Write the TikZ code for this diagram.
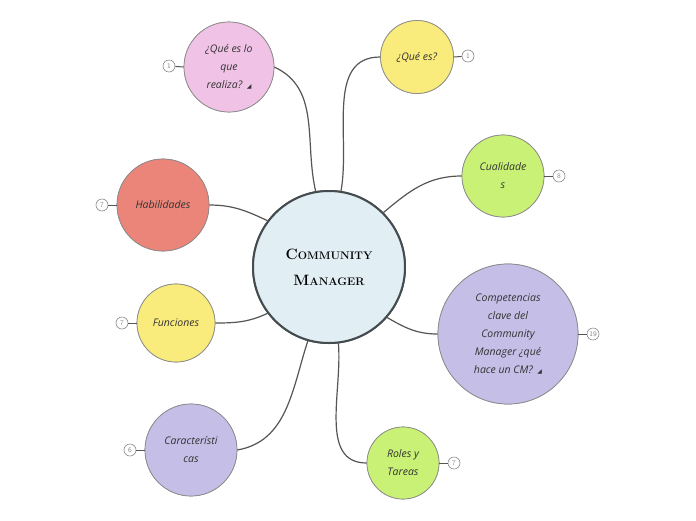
\documentclass[tikz,border=0pt]{standalone}
\usepackage{fontspec}
\newfontfamily\hand{Open Sans}
\newfontfamily\symfont{DejaVu Sans}
\definecolor{centerfill}{HTML}{E1EEF4}
\definecolor{centerbord}{HTML}{454C50}
\definecolor{pinkf}{HTML}{F0C3E6}
\definecolor{yellowf}{HTML}{F9EB7C}
\definecolor{greenf}{HTML}{C9F176}
\definecolor{lavf}{HTML}{C5BEE6}
\definecolor{salmonf}{HTML}{EC8579}
\definecolor{bordgray}{HTML}{8A8A8A}
\definecolor{conncol}{HTML}{555555}
\definecolor{txt}{HTML}{333333}
\newcommand{\tri}{\ \,{\symfont\fontsize{6}{6}\selectfont ◢}}
\newcommand{\bigc}[1]{{\fontsize{15}{26}\selectfont #1}}
\tikzset{
  topic/.style={circle, draw=bordgray, line width=0.7pt, inner sep=0pt,
    minimum size=#1, text=txt, align=center,
    font=\hand\itshape\fontsize{10.5}{18}\selectfont},
  central/.style={circle, draw=centerbord, line width=2pt, fill=centerfill,
    minimum size=152pt, inner sep=0pt, align=center, text=black,
    font=\bfseries\fontsize{11}{26}\selectfont},
  badge/.style={circle, draw=bordgray, fill=white, line width=0.6pt,
    minimum size=12pt, inner sep=0pt, text=bordgray,
    font=\sffamily\fontsize{7}{7}\selectfont},
  conn/.style={draw=conncol, line width=1.2pt},
  stub/.style={draw=conncol, line width=1pt}
}
\begin{document}
\begin{tikzpicture}[x=1pt,y=-1pt]
\useasboundingbox (0,0) rectangle (696,520);
\fill[white] (0,0) rectangle (696,520);

\node[central] (c) at (329,267) {\bigc{C}OMMUNITY\\\bigc{M}ANAGER};

\node[topic=90pt, fill=pinkf] (q1) at (229,67) {¿Qué es lo\\que\\realiza?\tri};
\node[topic=73pt, fill=yellowf] (q2) at (417,57) {¿Qué es?};
\node[topic=82pt, fill=greenf] (cu) at (503,176) {Cualidade\\s};
\node[topic=140pt, fill=lavf] (co) at (508,334) {Competencias\\clave del\\Community\\Manager ¿qué\\hace un CM?\tri};
\node[topic=92pt, fill=salmonf] (ha) at (163,205) {Habilidades};
\node[topic=78pt, fill=yellowf] (fu) at (176,323) {Funciones};
\node[topic=92pt, fill=lavf] (ca) at (191,450) {Característi\\cas};
\node[topic=72pt, fill=greenf] (ro) at (403,463) {Roles y\\Tareas};

\draw[conn] (c.100) to[out=103, in=-25] (q1.east);
\draw[conn] (c.81) to[out=80, in=180] (q2.west);
\draw[conn] (c.45) to[out=40, in=180] (cu.west);
\draw[conn] (c.-41) to[out=-30, in=180] (co.west);
\draw[conn] (c.143) to[out=155, in=0] (ha.east);
\draw[conn] (c.217) to[out=205, in=0] (fu.east);
\draw[conn] (c.254) to[out=252, in=10] (ca.east);
\draw[conn] (c.-83) to[out=-85, in=180] (ro.west);

% redraw circles on top of connector ends
\node[topic=90pt, fill=pinkf] at (229,67) {¿Qué es lo\\que\\realiza?\tri};
\node[topic=73pt, fill=yellowf] at (417,57) {¿Qué es?};
\node[topic=82pt, fill=greenf] at (503,176) {Cualidade\\s};
\node[topic=140pt, fill=lavf] at (508,334) {Competencias\\clave del\\Community\\Manager ¿qué\\hace un CM?\tri};
\node[topic=92pt, fill=salmonf] at (163,205) {Habilidades};
\node[topic=78pt, fill=yellowf] at (176,323) {Funciones};
\node[topic=92pt, fill=lavf] at (191,450) {Característi\\cas};
\node[topic=72pt, fill=greenf] at (403,463) {Roles y\\Tareas};
\node[central] at (329,267) {\bigc{C}OMMUNITY\\\bigc{M}ANAGER};

% badges
\node[badge] (b1) at (169,66) {1};
\node[badge] (b2) at (468,56) {1};
\node[badge] (b3) at (559,176) {8};
\node[badge] (b4) at (593,334) {19};
\node[badge] (b5) at (102,205) {7};
\node[badge] (b6) at (122,323) {7};
\node[badge] (b7) at (130,450) {6};
\node[badge] (b8) at (454,463) {7};
\draw[stub] (q1.west) -- (b1);
\draw[stub] (q2.east) -- (b2);
\draw[stub] (cu.east) -- (b3);
\draw[stub] (co.east) -- (b4);
\draw[stub] (ha.west) -- (b5);
\draw[stub] (fu.west) -- (b6);
\draw[stub] (ca.west) -- (b7);
\draw[stub] (ro.east) -- (b8);
\end{tikzpicture}
\end{document}
